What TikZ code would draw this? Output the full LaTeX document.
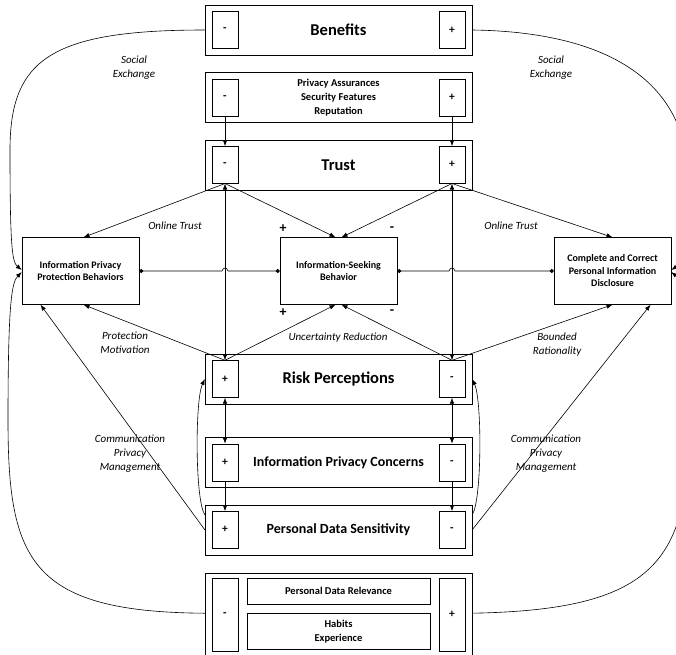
\documentclass[tikz,border=0pt]{standalone}
\usepackage{fontspec}
\setmainfont{Carlito}
\usetikzlibrary{positioning,arrows.meta}

\begin{document}
\begin{tikzpicture}[
    x=1pt, y=-1pt,
    node distance=17pt,
    wide/.style={draw, minimum width=267pt, minimum height=50pt, inner sep=0pt, align=center},
    sign/.style={draw, minimum width=26pt, minimum height=37pt, inner sep=0pt, font=\fontsize{11.5}{12}\selectfont\bfseries},
    sidebox/.style={draw, minimum width=117pt, minimum height=67pt, inner sep=1pt, align=center, font=\fontsize{10}{12.5}\selectfont\bfseries},
    title/.style={font=\fontsize{16.5}{18}\selectfont\bfseries},
    midtitle/.style={font=\fontsize{14}{16}\selectfont\bfseries},
    small/.style={align=center, font=\fontsize{10.5}{14}\selectfont\bfseries},
    lbl/.style={align=center, font=\fontsize{11}{14}\selectfont\itshape},
    pm/.style={font=\fontsize{14}{14}\selectfont\bfseries},
    arr/.style={-{Latex[length=6pt,width=4.5pt]}, line width=0.6pt},
    dbl/.style={{Latex[length=6pt,width=4.5pt]}-{Latex[length=6pt,width=4.5pt]}, line width=0.6pt},
    dotline/.style={{Circle[length=4pt]}-{Circle[length=4pt]}, line width=0.6pt}
]
    \useasboundingbox (0,0) rectangle (676,654);

    \node[wide, title] (ben) at (338.5,30) {Benefits};
    \node[wide, small, below=of ben] (assur) {Privacy Assurances\\Security Features\\Reputation};
    \node[wide, title, below=of assur] (trust) {Trust};
    \node[wide, title] (risk) at (338.5,379) {Risk Perceptions};
    \node[wide, midtitle, below=33pt of risk] (ipc) {Information Privacy Concerns};
    \node[wide, midtitle, below=of ipc] (pds) {Personal Data Sensitivity};
    \node[wide, minimum height=90pt, below=18pt of pds] (env) {};

    \node[sign, right=7pt of ben.west] (benL) {-};
    \node[sign, left=7pt of ben.east] (benR) {+};
    \node[sign, right=7pt of assur.west] (assurL) {-};
    \node[sign, left=7pt of assur.east] (assurR) {+};
    \node[sign, right=7pt of trust.west] (trustL) {-};
    \node[sign, left=7pt of trust.east] (trustR) {+};
    \node[sign, right=7pt of risk.west] (riskL) {+};
    \node[sign, left=7pt of risk.east] (riskR) {-};
    \node[sign, right=7pt of ipc.west] (ipcL) {+};
    \node[sign, left=7pt of ipc.east] (ipcR) {-};
    \node[sign, right=7pt of pds.west] (pdsL) {+};
    \node[sign, left=7pt of pds.east] (pdsR) {-};
    \node[sign, minimum height=73pt, below right=5pt and 7pt of env.north west] (envL) {-};
    \node[sign, minimum height=73pt, below left=5pt and 7pt of env.north east] (envR) {+};
    \node[draw, small, minimum width=183pt, minimum height=26pt, below=5pt of env.north] (rel) {Personal Data Relevance};
    \node[draw, small, minimum width=183pt, minimum height=36pt, below=9pt of rel] (hab) {Habits\\Experience};

    \node[sidebox] (ippb) at (80.5,271) {Information Privacy\\Protection Behaviors};
    \node[sidebox] (isb) at (338.5,271) {Information-Seeking\\Behavior};
    \node[sidebox] (ccpid) at (612.5,271) {Complete and Correct\\Personal Information\\Disclosure};

    \node[pm] (spT) at (283,229) {+};
    \node[pm] (smT) at (392,229) {-};
    \node[pm] (spB) at (283,313) {+};
    \node[pm] (smB) at (392,312) {-};

    \node[lbl] (socL) at (134,68) {Social\\Exchange};
    \node[lbl] (socR) at (551,68) {Social\\Exchange};
    \node[lbl] (otL) at (175,226) {Online Trust};
    \node[lbl] (otR) at (511,226) {Online Trust};
    \node[lbl] (pmot) at (125,343) {Protection\\Motivation};
    \node[lbl] (unc) at (338,338) {Uncertainty Reduction};
    \node[lbl] (bnd) at (557,345) {Bounded\\Rationality};
    \node[lbl] (cpmL) at (130,454) {Communication\\Privacy\\Management};
    \node[lbl] (cpmR) at (546,454) {Communication\\Privacy\\Management};

    \draw[arr] (assurL) -- (trustL);
    \draw[arr] (assurR) -- (trustR);
    \draw[arr] (trustL.south) -- ([xshift=3pt]ippb.north);
    \draw[arr] (trustL.south) -- ([xshift=-3pt]isb.north);
    \draw[arr] (trustR.south) -- ([xshift=3pt]isb.north);
    \draw[arr] (trustR.south) -- (ccpid.north);
    \draw[dbl] (trustL) -- (riskL);
    \draw[dbl] (trustR) -- (riskR);
    \draw[arr] (riskL.north) -- ([xshift=3pt]ippb.south);
    \draw[arr] (riskL.north) -- ([xshift=-3pt]isb.south);
    \draw[arr] (riskR.north) -- ([xshift=3pt]isb.south);
    \draw[arr] (riskR.north) -- (ccpid.south);
    \draw[dbl] (riskL) -- (ipcL);
    \draw[dbl] (riskR) -- (ipcR);
    \draw[arr] (ipcL) -- (pdsL);
    \draw[arr] (ipcR) -- (pdsR);

    \draw[dotline] (ippb.east) -- ([xshift=-3pt]trustL.center |- ippb.east)
        .. controls +(1,-4) and +(-1,-4) .. ++(6,0) -- (isb.west);
    \draw[dotline] (isb.east) -- ([xshift=-3pt]trustR.center |- isb.east)
        .. controls +(1,-4) and +(-1,-4) .. ++(6,0) -- (ccpid.west);

    \draw[arr] (pds.west) -- ([xshift=-40pt]ippb.south);
    \draw[arr] (pds.east) -- ([xshift=38pt]ccpid.south);
    \draw[arr] ([yshift=15pt]pds.west) .. controls (195,500) and (195,400) .. (risk.west);
    \draw[arr] ([yshift=15pt]pds.east) .. controls (482,500) and (482,400) .. (risk.east);

    \draw[arr] (ben.west) .. controls (50,30) and (10,60) .. (10,150)
        .. controls (10,245) and (12,262) .. ([yshift=1pt]ippb.west);
    \draw[arr] ([yshift=5pt]env.west) .. controls (30,612) and (8,560) .. (8,420)
        .. controls (8,300) and (12,282) .. ([yshift=-1pt]ippb.west);
    \draw[arr] (ben.east) .. controls (620,32) and (688,90) .. (688,180)
        .. controls (688,245) and (684,262) .. ([yshift=1pt]ccpid.east);
    \draw[arr] ([yshift=5pt]env.east) .. controls (640,610) and (688,570) .. (688,440)
        .. controls (688,300) and (684,282) .. ([yshift=-1pt]ccpid.east);
\end{tikzpicture}
\end{document}
